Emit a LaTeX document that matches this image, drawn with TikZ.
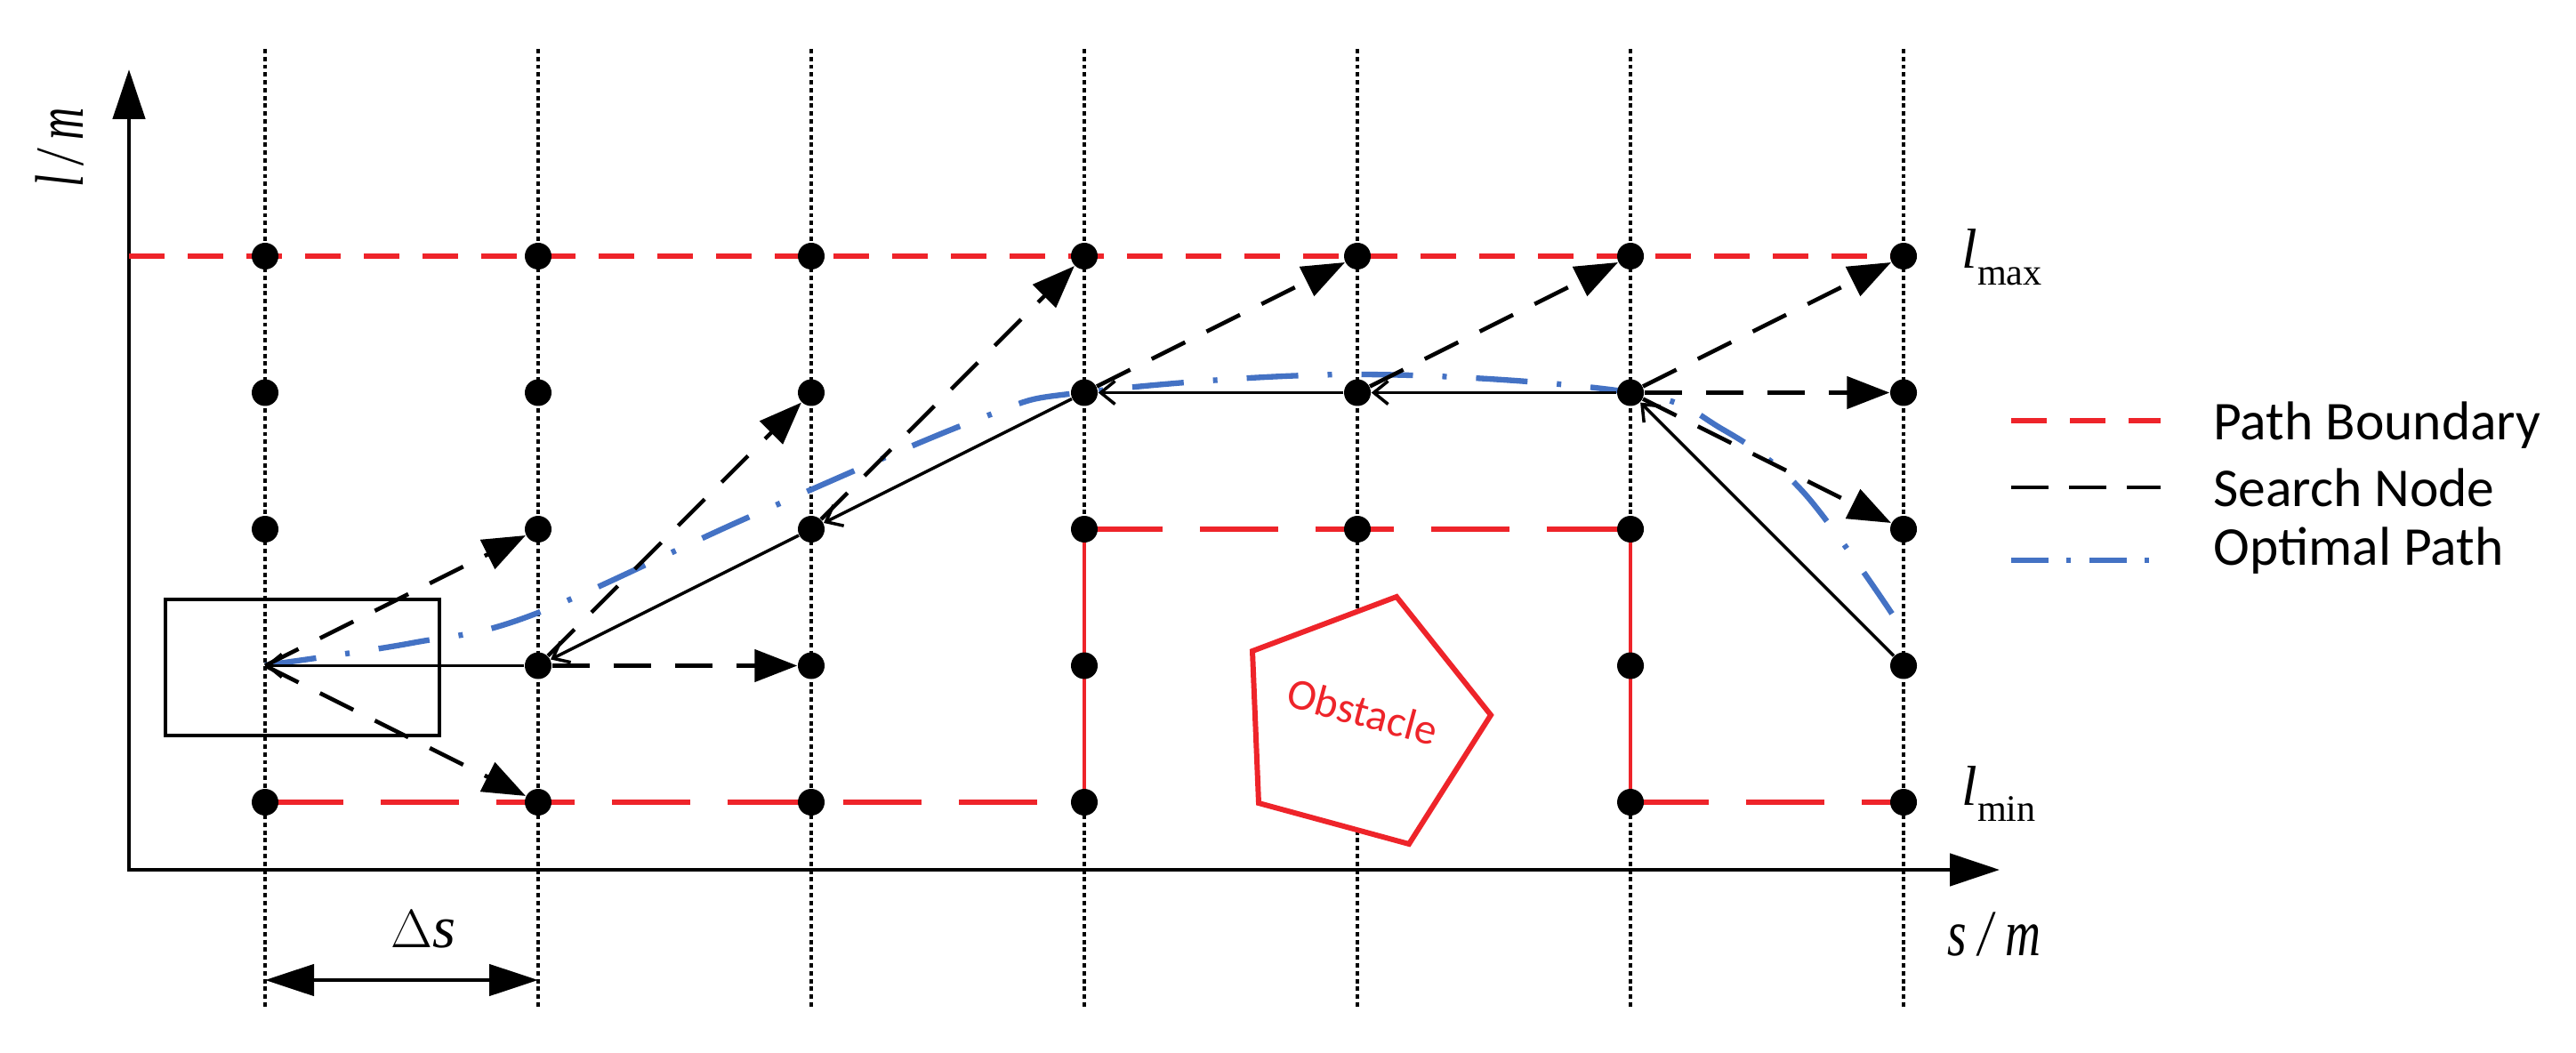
\documentclass[tikz,border=0pt]{standalone}
\usepackage{fontspec}
\newfontfamily\legfont{Carlito}
\newfontfamily\lblfont{Liberation Serif}
\usetikzlibrary{arrows.meta}
\definecolor{bndred}{RGB}{238,36,42}
\definecolor{optblue}{RGB}{68,114,196}

\begin{document}
\begin{tikzpicture}[
  gridpt/.style={circle,inner sep=0pt,minimum size=0.3cm},
  dotline/.style={line width=1.1pt,dash pattern=on 1.4pt off 1.1pt},
  bndshort/.style={bndred,line width=1.8pt,dash pattern=on 0.4cm off 0.26cm},
  bndlong/.style={bndred,line width=1.6pt,dash pattern=on 0.88cm off 0.42cm},
  bndwall/.style={bndred,line width=1.2pt},
  searchline/.style={line width=1.3pt,dash pattern=on 0.42cm off 0.27cm},
  search/.style={searchline,-{Triangle[length=0.48cm,width=0.36cm]}},
  parent/.style={line width=1pt,-{Straight Barb[length=0.16cm,width=0.26cm]}},
  optimal/.style={optblue,line width=1.8pt,dash pattern=on 0.58cm off 0.33cm on 0.05cm off 0.33cm},
  axis/.style={line width=1.4pt,{Triangle[length=0.56cm,width=0.36cm]}-{Triangle[length=0.56cm,width=0.36cm]}},
  lbl/.style={font=\lblfont\fontsize{19}{22}\selectfont},
  leg/.style={anchor=base west,font=\legfont\fontsize{17.5}{20}\selectfont},
]
\useasboundingbox (0,0) rectangle (28.96,11.83);

% grid of candidate points
\foreach \i in {1,...,7}{
  \coordinate (t\i) at ({2.98+3.07*(\i-1)},11.28);
  \coordinate (b\i) at ({2.98+3.07*(\i-1)},0.48);
  \draw[dotline] (t\i) -- (b\i);
  \foreach \j in {1,...,5}
    \path ({2.98+3.07*(\i-1)},{8.95-1.535*(\j-1)}) node[gridpt] (n\i\j) {};
}

\coordinate (o) at (1.45,2.05);
\coordinate (ytip) at (1.45,11.05);
\coordinate (xtip) at (22.48,2.05);
\draw[axis] (ytip) -- (o) -- (xtip);

% path boundary
\draw[bndshort] (o |- n11) -- (n71.center);
\draw[bndlong] (n15.center) -- (n45.center);
\draw[bndwall] (n45.center) -- (n43.center);
\draw[bndlong] (n43.center) -- (n63.center);
\draw[bndwall] (n63.center) -- (n65.center);
\draw[bndlong] (n65.center) -- (n75.center);

\draw[bndred,fill=white,line width=1.7pt,line join=miter] (14.08,4.51) -- (15.70,5.12) -- (16.76,3.79) -- (15.84,2.34) -- (14.15,2.80) -- cycle;
\node[bndred,rotate=-15,font=\legfont\fontsize{14}{16}\selectfont] (obst) at (15.32,3.83) {Obstacle};

\node[draw,line width=1.2pt,minimum width=3.08cm,minimum height=1.53cm] (car) at (3.40,4.325) {};

\draw[optimal] plot[smooth,tension=0.6] coordinates {(2.98,4.35) (4.63,4.60) (5.97,4.91) (8.45,6.03) (11.03,7.13) (12.19,7.42) (15.25,7.62) (18.32,7.42) (19.37,7.00) (20.27,6.30) (21.27,4.93)};

\draw[parent] (n24) -- (n14.center);
\draw[parent] (n33) -- (n24);
\draw[parent] (n42) -- (n33);
\draw[parent] (n52) -- (n42);
\draw[parent] (n62) -- (n52);
\draw[parent] (n74) -- (n62);

\draw[search] (n14.center) -- (n23);
\draw[search] (n14.center) -- (n25);
\draw[search] (n24) -- (n34);
\draw[search] (n24) -- (n32);
\draw[search] (n33) -- (n41);
\draw[search] (n42) -- (n51);
\draw[search] (n52) -- (n61);
\draw[search] (n62) -- (n71);
\draw[search] (n62) -- (n72);
\draw[search] (n62) -- (n73);

\foreach \p in {11,12,13,15,21,22,23,24,25,31,32,33,34,35,41,42,43,44,45,51,52,53,61,62,63,64,65,71,72,73,74,75}
  \fill (n\p.center) circle (0.15cm);

\node[lbl,rotate=90] (ylab) at (0.67,10.17) {\scalebox{0.65}[1]{\fontsize{22}{24}\selectfont\itshape l / m}};
\node[lbl,anchor=base west] (xlab) at (21.77,1.09) {\scalebox{0.75}[1]{\fontsize{21}{24}\selectfont\itshape s / m}};
\node[lbl,anchor=base west] (lmax) at (21.93,8.81) {\fontsize{18}{20}\selectfont\textit{l}\raisebox{-5.4pt}{\fontsize{12}{12}\selectfont max}};
\node[lbl,anchor=base west] (lmin) at (21.93,2.78) {\fontsize{18}{20}\selectfont\textit{l}\raisebox{-5.4pt}{\fontsize{12}{12}\selectfont min}};

\coordinate (ds1) at (n11 |- 0,0.81);
\coordinate (ds2) at (n21 |- 0,0.81);
\draw[line width=1.3pt,{Triangle[length=0.55cm,width=0.35cm]}-{Triangle[length=0.55cm,width=0.35cm]}] (ds1) -- (ds2);
\node[lbl,anchor=base west] (dslab) at (4.27,1.18) {$\Delta$\textit{s}};

% legend
\coordinate (la1) at (22.61,7.10);
\coordinate (lb1) at (24.29,7.10);
\coordinate (la2) at (22.61,6.35);
\coordinate (lb2) at (24.29,6.35);
\coordinate (la3) at (22.61,5.53);
\coordinate (lb3) at (24.29,5.53);
\draw[bndshort] (la1) -- (lb1);
\draw[searchline,dash pattern=on 0.42cm off 0.23cm] (la2) -- (lb2);
\draw[optimal,dash pattern=on 0.42cm off 0.2cm on 0.05cm off 0.21cm] (la3) -- (lb3);
\node[leg] (leg1) at (24.76,6.88) {Path Boundary};
\node[leg] (leg2) at (24.76,6.13) {Search Node};
\node[leg] (leg3) at (24.76,5.48) {Optimal Path};
\end{tikzpicture}
\end{document}
